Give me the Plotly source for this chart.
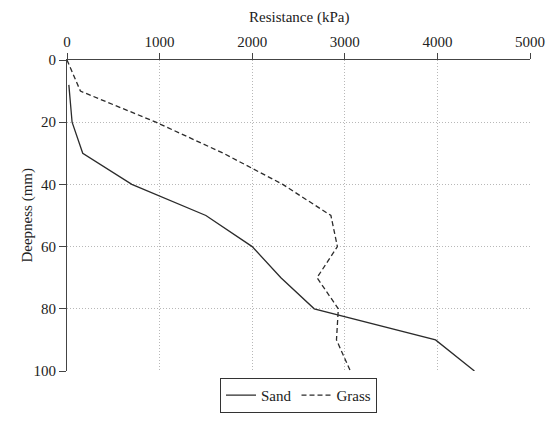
import plotly.graph_objects as go

depth_sand = [8, 20, 30, 40, 50, 60, 70, 80, 90, 100]
res_sand = [20, 55, 170, 700, 1500, 2000, 2310, 2670, 3980, 4400]

depth_grass = [0, 10, 20, 30, 40, 50, 60, 70, 80, 90, 100]
res_grass = [0, 145, 960, 1690, 2330, 2850, 2920, 2700, 2930, 2910, 3060]

x_ticks = [0, 1000, 2000, 3000, 4000, 5000]
y_ticks = [0, 20, 40, 60, 80, 100]

x_title = "Resistance (kPa)"
y_title = "Deepness (mm)"

FONT = "Liberation Serif, Times New Roman, serif"
LINE = "#2b2b2b"
GRID = "#b8b8b8"
TICKFONT = dict(family=FONT, size=15, color="#222")

fig = go.Figure()
fig.add_trace(go.Scatter(x=res_sand, y=depth_sand, mode="lines", name="Sand",
                         line=dict(color=LINE, width=1.3)))
fig.add_trace(go.Scatter(x=res_grass, y=depth_grass, mode="lines", name="Grass",
                         line=dict(color=LINE, width=1.3, dash="5px,3px")))

fig.update_layout(
    width=547, height=425,
    margin=dict(l=67, r=17, t=60, b=32),
    paper_bgcolor="white", plot_bgcolor="white",
    font=dict(family=FONT, size=15, color="#222"),
    showlegend=True,
    legend=dict(orientation="h", x=0.5, xanchor="center", y=-0.022, yanchor="top",
                bordercolor="#333", borderwidth=1, font=dict(family=FONT, size=15),
                itemwidth=30, tracegroupgap=0, bgcolor="white"),
    xaxis=dict(side="top", range=[0, 5000], tickvals=x_ticks, ticks="outside",
               ticklen=6, tickcolor="#444", showline=True, linecolor="#444", linewidth=1,
               showgrid=True, gridcolor=GRID, griddash="1px,2px", gridwidth=1,
               zeroline=False, tickfont=TICKFONT, automargin=False),
    yaxis=dict(range=[100, 0], tickvals=y_ticks, ticks="outside",
               ticklen=7, tickcolor="#444", showline=True, linecolor="#444", linewidth=1,
               showgrid=True, gridcolor=GRID, griddash="1px,2px", gridwidth=1,
               zeroline=False, tickfont=TICKFONT, automargin=False),
    annotations=[
        dict(text=x_title, xref="paper", yref="paper", x=0.5, y=1 + 45 / 333,
             xanchor="center", yanchor="middle", showarrow=False,
             font=dict(family=FONT, size=15, color="#222")),
        dict(text=y_title, xref="paper", yref="paper", x=-40 / 463.6, y=0.5,
             xanchor="center", yanchor="middle", textangle=-90, showarrow=False,
             font=dict(family=FONT, size=15, color="#222")),
    ],
)

fig.write_html("out.html", config={"displayModeBar": False},
               post_script="document.body.style.margin='0';")
